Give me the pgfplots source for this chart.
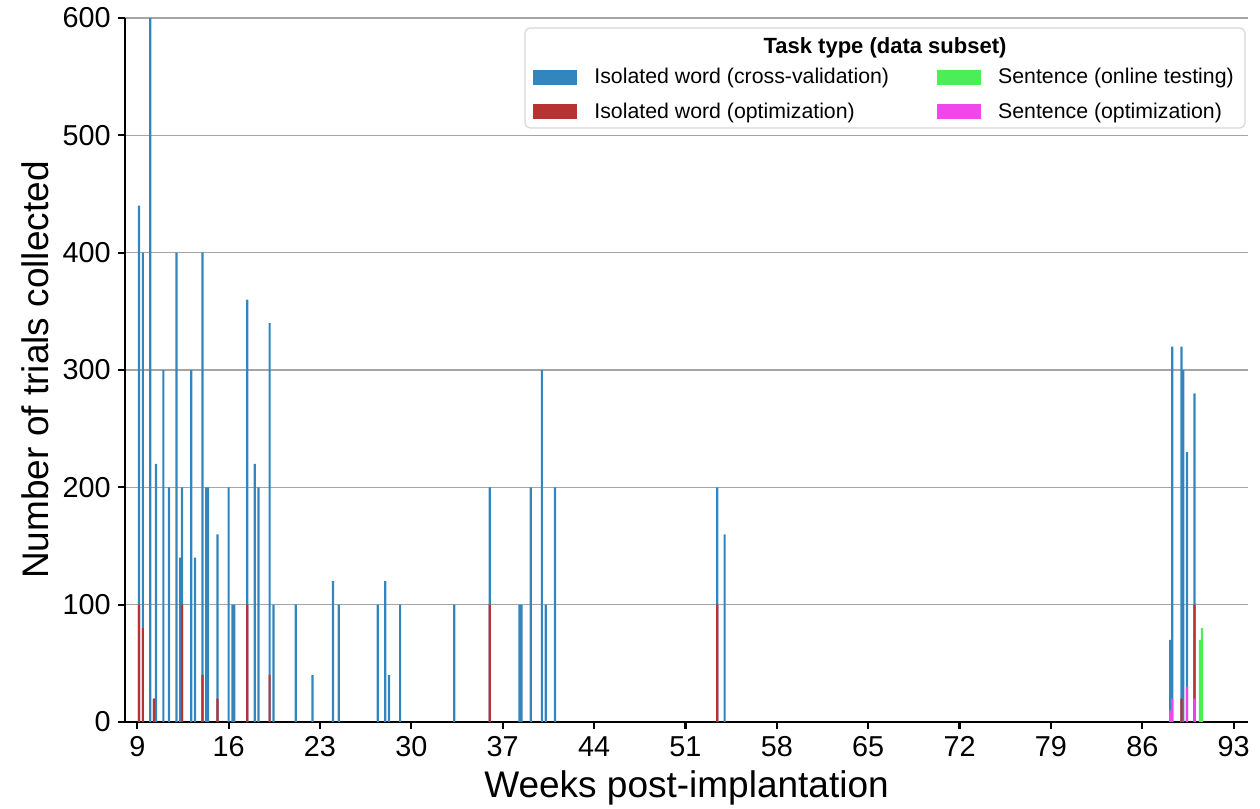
\documentclass[border=0pt]{standalone}
\usepackage{pgfplots}
\usepackage{pgfplotstable}
\pgfplotsset{compat=1.18}
\usepackage{fontspec}
\setmainfont{Liberation Sans}
\definecolor{cblue}{RGB}{50,134,189}
\definecolor{cred}{RGB}{185,50,50}
\definecolor{cgreen}{RGB}{75,238,88}
\definecolor{cmag}{RGB}{240,70,235}
\definecolor{cgrid}{RGB}{165,165,165}

% week, trials (isolated word, cross-validation)
\pgfplotstableread{
x y
9.14 440
9.43 400
10.0 600
10.29 20
10.43 220
11.0 300
11.43 200
12.0 400
12.29 140
12.43 200
13.14 300
13.43 140
14.0 400
14.29 200
14.43 200
15.14 160
16.0 200
16.29 100
16.43 100
17.43 360
18.0 220
18.29 200
19.14 340
19.43 100
21.14 100
22.43 40
24.0 120
24.43 100
27.43 100
28.0 120
28.29 40
29.14 100
33.29 100
36.0 200
38.29 100
38.43 100
39.14 200
40.0 300
40.29 100
41.0 200
53.43 200
54.0 160
88.14 70
88.29 320
89.0 320
89.14 300
89.43 230
90.0 280
}\cvdata
% isolated word, optimization
\pgfplotstableread{
x y
9.14 100
9.43 80
10.29 20
12.43 100
14.0 40
15.14 20
17.43 100
19.14 40
36.0 100
53.43 100
89.0 20
90.0 100
}\optdata
% sentence, online testing
\pgfplotstableread{
x y
90.43 70
90.57 80
}\onldata
% sentence, optimization
\pgfplotstableread{
x y
88.14 10
88.29 20
89.43 30
90.0 20
}\sentopt

\begin{document}
\begin{tikzpicture}
\useasboundingbox (-62.5pt,-43.5pt) rectangle (567.5pt,361pt);
\begin{axis}[
  at={(0pt,0pt)}, anchor=south west,
  scale only axis,
  width=561.5pt, height=352pt,
  xmin=8.06, xmax=94.1,
  ymin=0, ymax=600,
  xtick={9,16,...,93},
  ytick={0,100,...,600},
  axis lines=left,
  axis line style={-, line width=1.3pt, black},
  tick style={line width=1.1pt, black},
  tick align=outside,
  major tick length=3.6pt,
  ymajorgrids,
  grid style={cgrid, line width=0.55pt},
  ticklabel style={font=\fontsize{14.4}{16}\selectfont},
  /pgf/number format/assume math mode=true,
  xlabel={Weeks post-implantation},
  ylabel={Number of trials collected},
  label style={font=\fontsize{18.5}{22}\selectfont},
  xlabel style={at={(axis description cs:0.5,-0.0937)}, anchor=center},
  ylabel style={at={(axis description cs:-0.0801,0.5)}, anchor=center, rotate=0},
  legend columns=2,
  legend cell align=left,
  legend style={at={(rel axis cs:0.3633,0.935)}, anchor=north west,
    draw=none, fill=none, inner sep=0pt,
    font=\fontsize{10.65}{12}\selectfont,
    row sep=4pt,
    /tikz/every odd column/.append style={column sep=6.5pt},
    /tikz/every even column/.append style={column sep=22pt}},
  legend image code/.code={\path[#1,draw=none] (0pt,-3.75pt) rectangle (22pt,3.75pt);},
]
\draw[draw={rgb,255:red,215;green,215;blue,215}, fill=white, line width=0.6pt, rounded corners=2.5pt]
  (rel axis cs:0.3562,0.8438) rectangle (rel axis cs:0.9973,0.9858);
\node[font=\bfseries\fontsize{11}{12}\selectfont] at (rel axis cs:0.6768,0.9575) {Task type (data subset)};
\addplot[ybar, bar width=0.17, bar shift=0pt, fill=cblue, draw=none] table {\cvdata};
\addlegendentry{Isolated word (cross-validation)}
\addplot[ybar, bar width=0.17, bar shift=0pt, fill=cgreen, draw=none] table {\onldata};
\addlegendentry{Sentence (online testing)}
\addplot[ybar, bar width=0.17, bar shift=0pt, fill=cred, draw=none] table {\optdata};
\addlegendentry{Isolated word (optimization)}
\addplot[ybar, bar width=0.17, bar shift=0pt, fill=cmag, draw=none] table {\sentopt};
\addlegendentry{Sentence (optimization)}
\end{axis}
\end{tikzpicture}
\end{document}
